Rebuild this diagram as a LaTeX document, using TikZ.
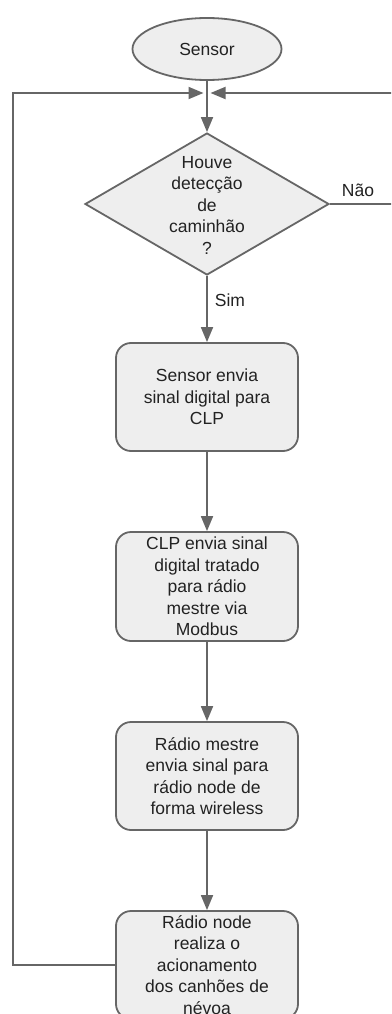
\documentclass[tikz,border=0pt]{standalone}
\usepackage{fontspec}
\setmainfont{Liberation Sans}
\usetikzlibrary{shapes.geometric,arrows.meta}
\definecolor{edge}{HTML}{666666}
\definecolor{boxfill}{HTML}{EEEEEE}
\definecolor{ink}{HTML}{222222}
\begin{document}
\begin{tikzpicture}[x=1pt,y=-1pt,
  every node/.style={font=\fontsize{17.5}{21.5}\selectfont, text=ink},
  stepbox/.style={draw=edge, fill=boxfill, line width=1.8pt, rounded corners=15pt,
    minimum width=182pt, minimum height=108pt, align=center, inner sep=0pt},
  startnode/.style={ellipse, draw=edge, fill=boxfill, line width=1.8pt,
    minimum width=149pt, minimum height=62pt, inner sep=0pt},
  decision/.style={diamond, draw=edge, fill=boxfill, line width=1.8pt,
    minimum width=244pt, minimum height=142pt, inner sep=0pt},
  flow/.style={draw=edge, line width=1.8pt, -{Triangle[length=15pt,width=12pt]}},
  wire/.style={draw=edge, line width=1.8pt},
]
\useasboundingbox (0,0) rectangle (391,1014);
\clip (0,0) rectangle (391,1014);

% nodes
\node[startnode] (start) at (207,49) {Sensor};
\coordinate (merge) at (207,93);
\node[decision] (test) at (207,204) {};
\node[align=center, inner sep=0pt] (testtext) at (207,205)
  {Houve\\detecção\\de\\caminhão\\?};
\node[stepbox] (b1) at (207,397) {Sensor envia\\sinal digital para\\CLP};
\node[stepbox, minimum height=109pt] (b2) at (207,586.5)
  {CLP envia sinal\\digital tratado\\para rádio\\mestre via\\Modbus};
\node[stepbox] (b3) at (207,776)
  {Rádio mestre\\envia sinal para\\rádio node de\\forma wireless};
\node[stepbox] (b4) at (207,965)
  {Rádio node\\realiza o\\acionamento\\dos canhões de\\névoa};

% loop corners
\coordinate (lcorner) at (13,93);
\coordinate (rcorner) at (395,93);

% main flow
\draw[wire] (start.south) -- (merge);
\draw[flow] (merge) -- (test.north);
\draw[flow] (test.south) -- (b1.north);
\node (sim) at (230,300) {Sim};
\draw[flow] (b1.south) -- (b2.north);
\draw[flow] (b2.south) -- (b3.north);
\draw[flow] (b3.south) -- (b4.north);

% feedback loops
\draw[flow] (b4.west) -| (lcorner) -- ([xshift=-3.5pt]merge);
\draw[flow] (test.east) -| (rcorner) -- ([xshift=3.5pt]merge);
\node (nao) at (358,190) {Não};
\end{tikzpicture}
\end{document}
